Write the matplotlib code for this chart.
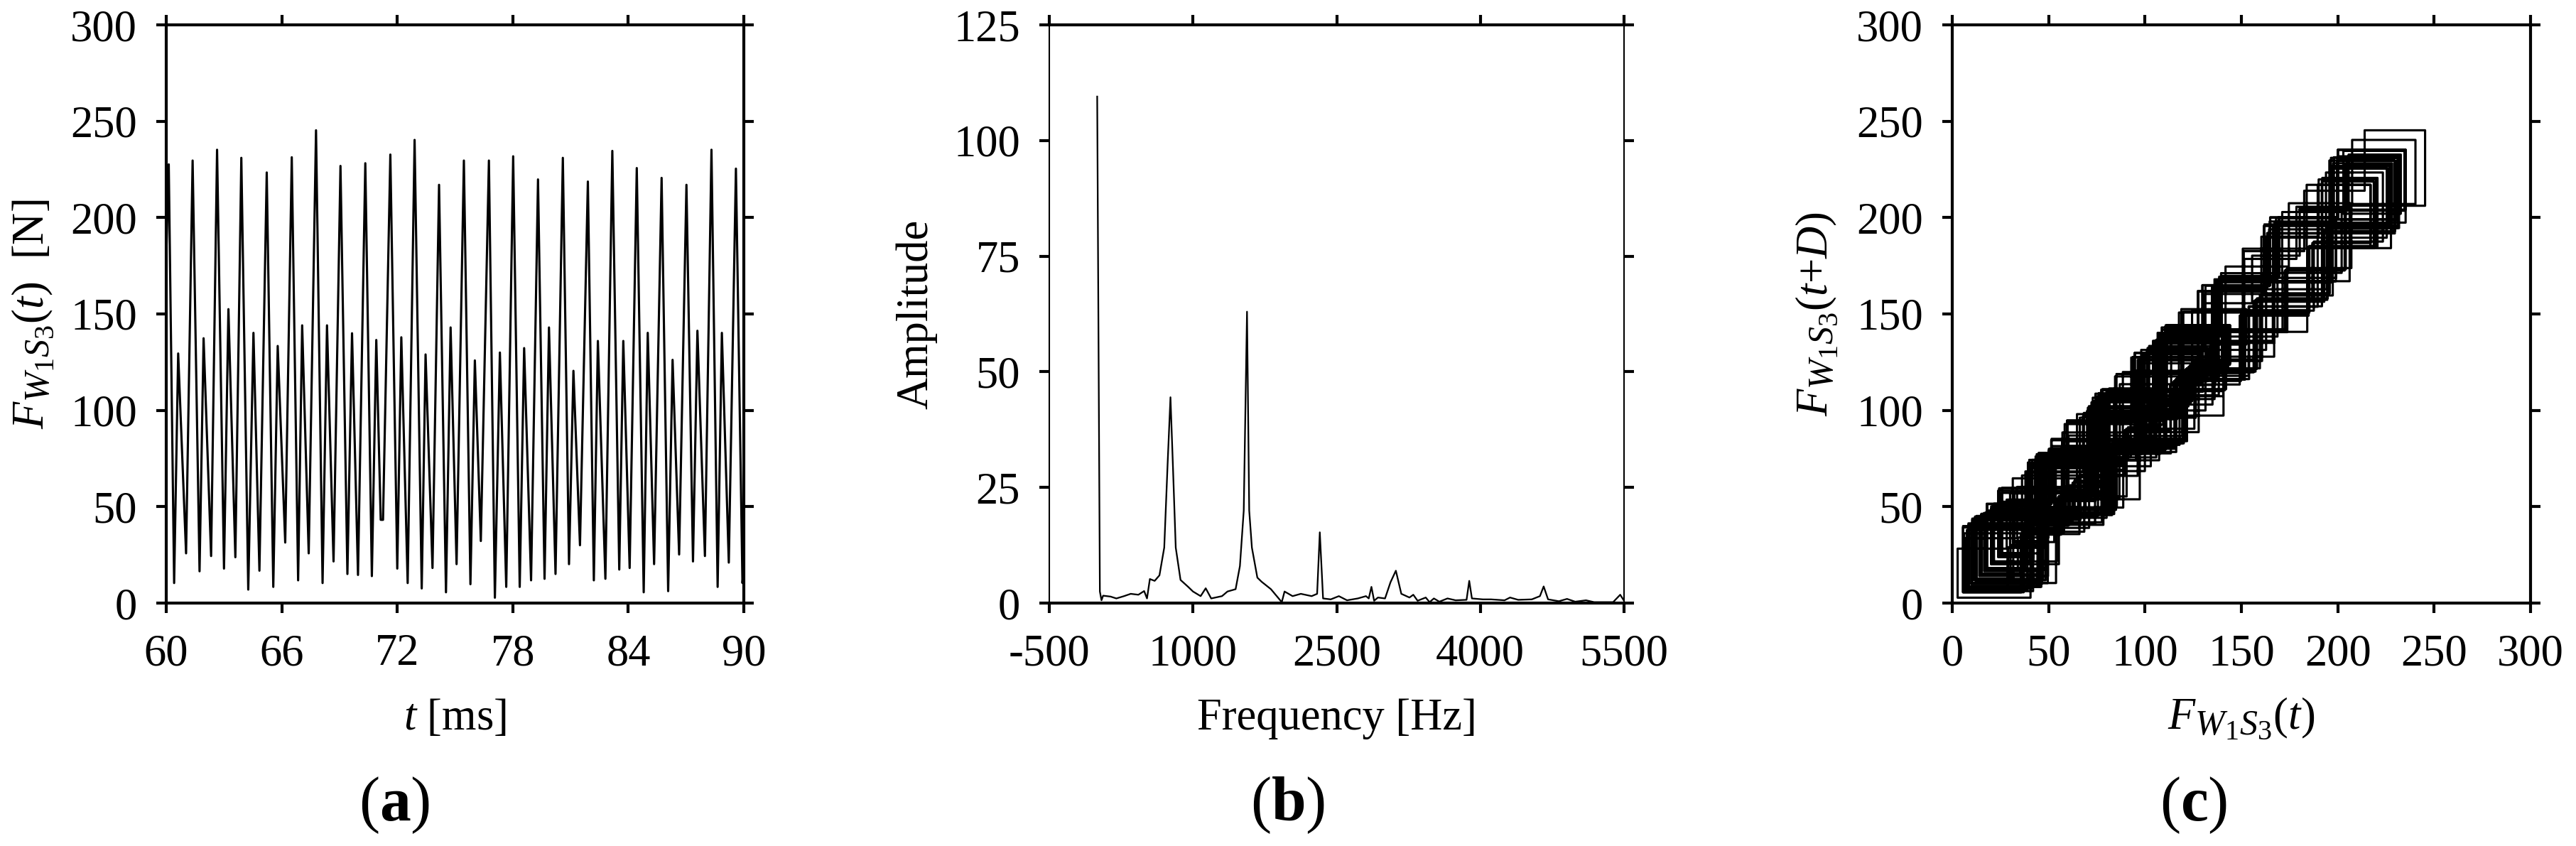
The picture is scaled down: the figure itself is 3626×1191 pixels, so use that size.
import numpy as np
import matplotlib
matplotlib.use("Agg")
import matplotlib.pyplot as plt
import matplotlib._mathtext as _mt

plt.rcParams['font.family'] = ['Liberation Serif', 'DejaVu Serif']
plt.rcParams['mathtext.fontset'] = 'custom'
plt.rcParams['mathtext.rm'] = 'Liberation Serif'
plt.rcParams['mathtext.it'] = 'Liberation Serif:italic'
plt.rcParams['mathtext.bf'] = 'Liberation Serif:bold'
plt.rcParams['axes.unicode_minus'] = False
try:
    _mt.SHRINK_FACTOR = 0.8
except Exception:
    pass

# ---------------- data: (a) force time series (key vertices)
t_a = [60.00, 60.13, 60.41, 60.62, 61.03, 61.37, 61.73, 61.94, 62.33, 62.64,
       63.00, 63.23, 63.59, 63.90, 64.26, 64.53, 64.84, 65.22, 65.56, 65.79,
       66.18, 66.52, 66.85, 67.06, 67.40, 67.78, 68.12, 68.35, 68.69, 69.05,
       69.41, 69.65, 69.96, 70.34, 70.68, 70.91, 71.14, 71.26, 71.64, 72.00,
       72.21, 72.54, 72.90, 73.27, 73.47, 73.83, 74.17, 74.53, 74.77, 75.08,
       75.46, 75.80, 76.03, 76.34, 76.76, 77.07, 77.33, 77.66, 78.02, 78.36,
       78.59, 78.95, 79.31, 79.65, 79.88, 80.22, 80.60, 80.92, 81.15, 81.49,
       81.90, 82.21, 82.42, 82.81, 83.17, 83.53, 83.74, 84.07, 84.44, 84.80,
       85.01, 85.34, 85.73, 86.07, 86.30, 86.64, 87.02, 87.36, 87.59, 87.98,
       88.32, 88.64, 88.86, 89.22, 89.59, 89.93, 90.00]
F_a = [180.0, 227.6, 10.4, 129.5, 25.8, 229.6, 16.5, 137.4, 24.4, 235.2,
       17.9, 152.5, 23.8, 231.0, 7.0, 140.2, 16.8, 223.4, 8.4, 133.4,
       31.4, 231.3, 11.8, 144.1, 25.8, 245.3, 10.4, 144.1, 21.6, 226.8,
       15.1, 140.0, 14.6, 228.2, 14.0, 136.5, 43.2, 43.2, 232.7, 17.9,
       137.9, 10.4, 240.3, 7.6, 129.0, 18.2, 217.0, 5.6, 143.0, 20.2,
       229.6, 9.8, 125.9, 32.2, 229.6, 2.8, 130.0, 8.4, 231.8, 8.4,
       132.3, 11.8, 219.8, 12.6, 143.0, 15.1, 231.0, 20.2, 120.5, 30.0,
       218.7, 11.8, 136.0, 12.6, 234.6, 17.4, 136.0, 18.2, 225.7, 5.6,
       140.2, 20.2, 220.6, 6.2, 126.2, 25.2, 217.0, 21.6, 141.3, 24.4,
       235.2, 8.4, 140.2, 21.0, 225.4, 10.4, 18.0]

# ---------------- data: (b) amplitude spectrum (key vertices)
f_b = [0, 28, 45, 62, 140, 200, 280, 350, 430, 490, 520, 550, 600, 650, 700,
       735, 765, 790, 820, 870, 950, 1000, 1080, 1133, 1190, 1303, 1360, 1445,
       1490, 1530, 1564, 1587, 1615, 1672, 1717, 1814, 1927, 1956, 2040, 2126,
       2239, 2296, 2324, 2358, 2438, 2523, 2608, 2721, 2806, 2835, 2863, 2891,
       2931, 3005, 3062, 3118, 3175, 3260, 3300, 3345, 3430, 3470, 3515, 3572,
       3657, 3742, 3856, 3884, 3912, 4026, 4111, 4253, 4310, 4395, 4537, 4622,
       4661, 4707, 4820, 4905, 4990, 5103, 5188, 5386, 5460, 5500]
A_b = [109.5, 2.5, 0.6, 1.6, 1.4, 1.0, 1.5, 2.0, 1.8, 2.6, 1.0, 5.2, 4.8, 6.0, 12.0,
       30.0, 44.5, 30.0, 12.0, 5.0, 3.5, 2.5, 1.5, 3.2, 1.0, 1.5, 2.5, 3.0,
       8.0, 20.0, 63.0, 20.0, 12.0, 5.5, 4.6, 3.0, 0.2, 2.5, 1.5, 2.0,
       1.5, 2.0, 15.3, 1.0, 0.8, 1.5, 0.6, 1.0, 1.5, 1.0, 3.5, 0.5,
       1.2, 1.0, 4.5, 7.0, 2.0, 1.2, 1.8, 0.5, 1.2, 0.2, 1.0, 0.3,
       1.0, 0.6, 0.7, 4.8, 1.0, 0.8, 0.8, 0.6, 1.2, 0.7, 0.8, 1.5,
       3.6, 0.8, 0.4, 0.9, 0.3, 0.6, 0.2, 0.2, 1.8, 0.5]

# ---------------- (c) delay embedding of the series in (a)
sample_step_ms = 0.055
delay_samples = 1

a_xticks = [60, 66, 72, 78, 84, 90]
a_yticks = [0, 50, 100, 150, 200, 250, 300]
b_xticks = [-500, 1000, 2500, 4000, 5500]
b_yticks = [0, 25, 50, 75, 100, 125]
c_ticks = [0, 50, 100, 150, 200, 250, 300]

W, H = 3626, 1191
DPI = 300
fig = plt.figure(figsize=(W / DPI, H / DPI), dpi=DPI)

bottom = (H - 849) / H
height = 814 / H
ax_a = fig.add_axes([234 / W, bottom, 813 / W, height])
ax_b = fig.add_axes([1477 / W, bottom, 809 / W, height])
ax_c = fig.add_axes([2748 / W, bottom, 814 / W, height])

FS = 15
tick_len = 14 / DPI * 72

for ax in (ax_a, ax_b, ax_c):
    ax.tick_params(direction='out', length=tick_len, width=1.0,
                   top=True, right=True, labeltop=False, labelright=False,
                   labelsize=FS, colors='black')
    ax.tick_params(axis='x', pad=7.0)
    ax.tick_params(axis='y', pad=6.5)
    for s in ax.spines.values():
        s.set_linewidth(1.0)
        s.set_color('black')

# (a)
ax_a.plot(t_a, F_a, color='black', lw=0.75)
ax_a.set_xlim(60, 90)
ax_a.set_ylim(0, 300)
ax_a.set_xticks(a_xticks)
ax_a.set_yticks(a_yticks)
ax_a.set_xlabel(r'$t$ [ms]', fontsize=FS, va='center')
ax_a.set_ylabel(r'$F_{W_1S_3}(t)$  [N]', fontsize=FS, va='center', ha='center')
ax_a.xaxis.set_label_coords(0.5, (849 - 1012) / 814)
ax_a.yaxis.set_label_coords((47 - 234) / 813, 0.5)

# (b)
ax_b.plot(f_b, A_b, color='black', lw=0.55)
ax_b.set_xlim(-500, 5500)
ax_b.set_ylim(0, 125)
ax_b.set_xticks(b_xticks)
ax_b.set_yticks(b_yticks)
ax_b.spines['left'].set_linewidth(0.5)
ax_b.spines['right'].set_linewidth(0.5)
ax_b.set_xlabel('Frequency [Hz]', fontsize=FS, va='center')
ax_b.set_ylabel('Amplitude', fontsize=FS, va='center', ha='center')
ax_b.xaxis.set_label_coords(0.5, (849 - 1012) / 814)
ax_b.yaxis.set_label_coords((1290 - 1477) / 809, 0.5)

# (c): resample the series of (a) on a uniform-per-segment grid that keeps its vertices
ta = np.asarray(t_a)
t_fine = []
for i in range(len(ta) - 1):
    n = max(1, int(round((ta[i + 1] - ta[i]) / sample_step_ms)))
    t_fine.append(np.linspace(ta[i], ta[i + 1], n, endpoint=False))
t_fine = np.concatenate(t_fine + [ta[-1:]])
F_fine = np.interp(t_fine, t_a, F_a)
ax_c.plot(F_fine[:-delay_samples], F_fine[delay_samples:], color='black', lw=0.75,
          drawstyle='steps-post')
ax_c.set_xlim(0, 300)
ax_c.set_ylim(0, 300)
ax_c.set_xticks(c_ticks)
ax_c.set_yticks(c_ticks)
ax_c.set_xlabel(r'$F_{W_1S_3}(t)$', fontsize=FS, va='center')
ax_c.set_ylabel(r'$F_{W_1S_3}(t{+}D)$', fontsize=FS, va='center', ha='center')
ax_c.xaxis.set_label_coords(0.5, (849 - 1012) / 814)
ax_c.yaxis.set_label_coords((2558 - 2748) / 814, 0.5)

# panel letters
for xc, letter in ((555, 'a'), (1813, 'b'), (3088, 'c')):
    fig.text(xc / W, (H - 1134) / H, '(' + r'$\mathbf{' + letter + '}$' + ')',
             fontsize=21, ha='center', va='center')

fig.savefig('out.png', dpi=DPI)
